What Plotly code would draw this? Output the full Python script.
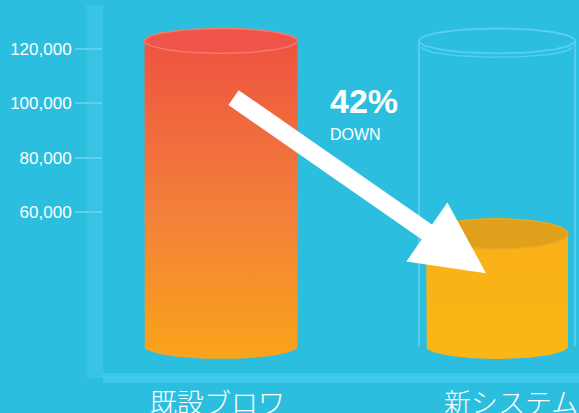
import numpy as np
import plotly.graph_objects as go

# ---- data ----
categories = ["既設ブロワ", "新システム"]
values = [123000, 52000]          # level of each cylinder (top surface)
capacity = 123000                 # height of the empty glass cylinder
base_value = 10500                # bottom of the cylinders
tick_values = [60000, 80000, 100000, 120000]
tick_labels = ["60,000", "80,000", "100,000", "120,000"]
change_label = "42%"
change_sub = "DOWN"

BG = "#2CBEDE"
HALF_W = 0.277      # half width of a cylinder in category units
ELL = 4600          # half height of the cylinder ellipses in y units

fig = go.Figure()

t = np.linspace(0, 2 * np.pi, 90)
half = np.linspace(0, np.pi, 45)


def ellipse(xc, yc, w, e):
    return xc + w * np.cos(t), yc + e * np.sin(t)


def body(xc, top, bottom, w, e):
    xs = [xc - w, xc - w]
    ys = [top, bottom]
    xs += list(xc - w * np.cos(half))
    ys += list(bottom - e * np.sin(half))
    xs += [xc + w, xc + w, xc - w]
    ys += [bottom, top, top]
    return xs, ys


# empty glass cylinder behind the second bar
xc2 = 1
W2 = HALF_W + 0.006
glass_line = dict(color="#55CFEE", width=2)
fig.add_trace(go.Scatter(x=[xc2 - W2, xc2 - W2], y=[base_value, capacity], mode="lines",
                         line=glass_line, hoverinfo="skip", showlegend=False))
fig.add_trace(go.Scatter(x=[xc2 + W2, xc2 + W2], y=[base_value, capacity], mode="lines",
                         line=glass_line, hoverinfo="skip", showlegend=False))
ex, ey = ellipse(xc2, capacity, W2, ELL)
fig.add_trace(go.Scatter(x=ex, y=ey, mode="lines", line=glass_line,
                         hoverinfo="skip", showlegend=False))
fig.add_trace(go.Scatter(x=xc2 + (W2 - 0.01) * np.cos(half), y=capacity - 2200 - (ELL - 800) * np.sin(half),
                         mode="lines", line=dict(color="#55CFEE", width=1.5),
                         hoverinfo="skip", showlegend=False))

# filled cylinders
body_scales = [
    [[0, "#FAA41A"], [0.45, "#F3813A"], [1, "#EE5340"]],
    [[0, "#FBB514"], [1, "#F9B118"]],
]
top_fill = ["#EF5548", "#E0A01C"]
top_line = ["#F37A6C", "#E8A820"]
widths = [HALF_W, HALF_W - 0.02]

for i, (cat, v) in enumerate(zip(categories, values)):
    xc = i
    w = widths[i]
    bx, by = body(xc, v, base_value, w, ELL)
    fig.add_trace(go.Scatter(
        x=bx, y=by, mode="lines", fill="toself", line=dict(width=0, color=top_fill[i]),
        fillgradient=dict(type="vertical", colorscale=body_scales[i],
                          start=base_value - ELL, stop=v),
        hoverinfo="skip", showlegend=False))
    ex, ey = ellipse(xc, v, w, ELL * (1 if i == 0 else 1.2))
    fig.add_trace(go.Scatter(x=ex, y=ey, mode="lines", fill="toself", fillcolor=top_fill[i],
                             line=dict(color=top_line[i], width=1.5),
                             hoverinfo="skip", showlegend=False))

# arrow from the first bar down into the second
fig.add_annotation(
    x=0.96, y=values[1] - 14500, xref="x", yref="y",
    ax=0.04, ay=values[0] - 20500, axref="x", ayref="y",
    showarrow=True, arrowhead=2, arrowwidth=18, arrowsize=0.8,
    arrowcolor="white", text="")

fig.add_annotation(x=0.387, y=values[0] - 29800, xref="x", yref="y", text=f"<b>{change_label}</b>",
                   showarrow=False, xanchor="left", yanchor="bottom",
                   font=dict(family="Liberation Sans, Arial", size=34, color="white"))
fig.add_annotation(x=0.387, y=values[0] - 30500, xref="x", yref="y", text=change_sub,
                   showarrow=False, xanchor="left", yanchor="top",
                   font=dict(family="Liberation Sans, Arial", size=16, color="white"))

# category labels below the axis
label_shift = [-4, 14]
for i, cat in enumerate(categories):
    fig.add_annotation(x=i, y=0, xref="x", yref="paper", text=cat, showarrow=False,
                       xanchor="center", yanchor="top", yshift=-2, xshift=label_shift[i],
                       font=dict(family="Noto Sans CJK JP", size=27, color="white", weight=300))

# axis bands
fig.add_shape(type="rect", xref="paper", yref="paper", x0=-0.035, x1=0.0, y0=0, y1=1,
              fillcolor="#3AC4E4", line=dict(width=0), layer="below")
fig.add_shape(type="rect", xref="paper", yref="paper", x0=0, x1=1, y0=-0.013, y1=0.013,
              fillcolor="#3FC8E8", line=dict(width=0), layer="below")

fig.update_layout(
    width=579, height=413,
    margin=dict(l=103, r=0, t=5, b=35),
    paper_bgcolor=BG, plot_bgcolor=BG,
    showlegend=False,
    xaxis=dict(range=[-0.4275, 1.297], tickvals=[0, 1], ticktext=["", ""],
               showgrid=False, zeroline=False, showline=False, ticks="",
               fixedrange=True),
    yaxis=dict(range=[-1100, 136200], tickvals=tick_values, ticktext=tick_labels,
               showgrid=False, zeroline=False, showline=False,
               ticks="outside", ticklen=27, tickwidth=2, tickcolor="#5CD2EF",
               tickfont=dict(family="Liberation Sans, Arial", size=17, color="white"),
               fixedrange=True),
)

fig.write_html(
    "out.html",
    config={"displayModeBar": False},
    post_script="document.body.style.margin='0';document.body.style.overflow='hidden';"
                "document.body.style.background='" + BG + "';",
)
